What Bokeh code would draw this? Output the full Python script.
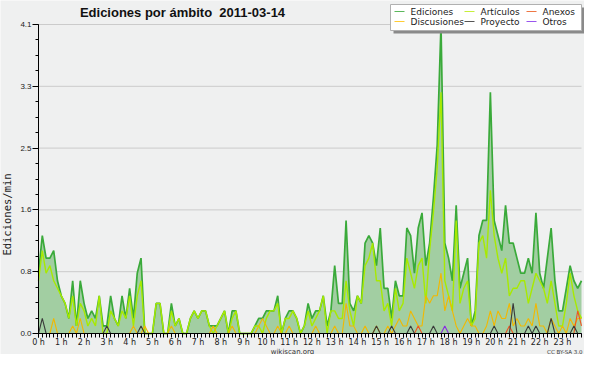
import math
from bokeh.plotting import figure
from bokeh.models import Range1d, FixedTicker, Label, BoxAnnotation
from bokeh.embed import file_html
from bokeh.resources import INLINE

# ---------------- data (edits per minute, 10-minute bins, 2011-03-14) ----------------
HOUR_LABELS = [f"{h} h" for h in range(24)]
Y_TICKS = [0.0, 0.82, 1.64, 2.46, 3.28, 4.1]
Y_LABELS = ["0.0", "0.8", "1.6", "2.5", "3.3", "4.1"]

EDICIONES = [
    0.8, 1.3, 1.0, 1.0, 1.1, 0.7,
    0.5, 0.4, 0.2, 0.7, 0.1, 0.7,
    0.4, 0.2, 0.3, 0.2, 0.5, 0.1,
    0.1, 0.5, 0.2, 0.1, 0.5, 0.2,
    0.6, 0.2, 0.8, 1.0, 0.0, 0.0,
    0.0, 0.4, 0.4, 0.0, 0.0, 0.4,
    0.1, 0.2, 0.0, 0.0, 0.2, 0.3,
    0.2, 0.3, 0.3, 0.1, 0.1, 0.1,
    0.2, 0.3, 0.0, 0.3, 0.3, 0.0,
    0.0, 0.0, 0.0, 0.1, 0.2, 0.2,
    0.3, 0.3, 0.3, 0.5, 0.0, 0.2,
    0.3, 0.3, 0.2, 0.0, 0.1, 0.4,
    0.2, 0.3, 0.3, 0.5, 0.1, 0.3,
    0.9, 0.4, 0.4, 1.5, 0.4, 0.3,
    0.5, 0.4, 1.2, 1.3, 1.2, 0.9,
    1.4, 0.6, 0.6, 0.2, 0.7, 0.5,
    0.5, 1.4, 1.3, 0.8, 1.4, 1.6,
    0.9, 1.2, 1.8, 2.5, 4.1, 1.2,
    1.0, 0.7, 1.7, 0.6, 0.8, 1.0,
    0.1, 0.3, 1.3, 1.5, 1.5, 3.2,
    1.5, 1.3, 1.1, 1.7, 1.2, 1.2,
    1.0, 0.8, 0.8, 1.0, 0.8, 1.6,
    0.8, 0.6, 1.0, 1.4, 0.7, 0.3,
    0.3, 0.6, 0.9, 0.7, 0.6, 0.7,
]

ARTICULOS = [
    0.7, 1.1, 0.8, 0.9, 0.7, 0.6,
    0.5, 0.4, 0.2, 0.5, 0.1, 0.4,
    0.3, 0.1, 0.2, 0.1, 0.5, 0.0,
    0.0, 0.3, 0.2, 0.1, 0.3, 0.2,
    0.5, 0.1, 0.5, 0.7, 0.0, 0.0,
    0.0, 0.4, 0.4, 0.0, 0.0, 0.3,
    0.1, 0.2, 0.0, 0.0, 0.2, 0.3,
    0.2, 0.3, 0.3, 0.1, 0.0, 0.1,
    0.2, 0.3, 0.0, 0.2, 0.3, 0.0,
    0.0, 0.0, 0.0, 0.1, 0.1, 0.0,
    0.2, 0.3, 0.3, 0.4, 0.0, 0.2,
    0.2, 0.3, 0.2, 0.0, 0.1, 0.3,
    0.1, 0.2, 0.3, 0.5, 0.0, 0.3,
    0.3, 0.2, 0.2, 0.7, 0.3, 0.1,
    0.5, 0.4, 0.9, 1.0, 1.2, 0.7,
    0.7, 0.3, 0.4, 0.1, 0.6, 0.3,
    0.4, 1.0, 0.8, 0.6, 0.9, 1.0,
    0.4, 1.1, 1.6, 2.2, 3.2, 0.7,
    0.5, 0.3, 1.5, 0.4, 0.6, 0.7,
    0.1, 0.2, 1.2, 1.3, 1.0, 1.9,
    1.3, 1.0, 0.8, 1.0, 0.5, 0.6,
    0.6, 0.7, 0.7, 0.4, 0.6, 0.8,
    0.7, 0.6, 0.4, 0.7, 0.4, 0.1,
    0.1, 0.4, 0.8, 0.5, 0.3, 0.2,
]

DISCUSIONES = [
    0.0, 0.0, 0.0, 0.0, 0.2, 0.0,
    0.0, 0.0, 0.0, 0.1, 0.0, 0.2,
    0.0, 0.0, 0.0, 0.0, 0.0, 0.0,
    0.0, 0.0, 0.0, 0.0, 0.0, 0.0,
    0.0, 0.1, 0.0, 0.0, 0.1, 0.0,
    0.0, 0.0, 0.0, 0.0, 0.0, 0.1,
    0.0, 0.0, 0.0, 0.0, 0.0, 0.0,
    0.0, 0.0, 0.0, 0.0, 0.1, 0.0,
    0.0, 0.0, 0.0, 0.1, 0.0, 0.0,
    0.0, 0.0, 0.0, 0.0, 0.1, 0.2,
    0.1, 0.0, 0.0, 0.1, 0.0, 0.0,
    0.1, 0.0, 0.0, 0.0, 0.0, 0.0,
    0.0, 0.1, 0.0, 0.0, 0.0, 0.0,
    0.1, 0.0, 0.0, 0.4, 0.1, 0.1,
    0.0, 0.0, 0.1, 0.0, 0.0, 0.1,
    0.0, 0.0, 0.1, 0.0, 0.1, 0.2,
    0.1, 0.1, 0.3, 0.2, 0.1, 0.1,
    0.5, 0.4, 0.5, 0.5, 0.8, 0.3,
    0.5, 0.3, 0.1, 0.0, 0.1, 0.2,
    0.1, 0.1, 0.0, 0.0, 0.1, 0.3,
    0.1, 0.3, 0.2, 0.2, 0.4, 0.1,
    0.2, 0.1, 0.1, 0.2, 0.1, 0.4,
    0.1, 0.1, 0.0, 0.2, 0.1, 0.0,
    0.1, 0.0, 0.2, 0.1, 0.2, 0.2,
]

PROYECTO = [
    0.0, 0.2, 0.0, 0.0, 0.0, 0.0,
    0.0, 0.0, 0.0, 0.0, 0.0, 0.0,
    0.0, 0.0, 0.0, 0.0, 0.0, 0.0,
    0.1, 0.0, 0.0, 0.0, 0.0, 0.0,
    0.0, 0.0, 0.0, 0.1, 0.0, 0.0,
    0.0, 0.0, 0.0, 0.0, 0.0, 0.0,
    0.0, 0.0, 0.0, 0.0, 0.0, 0.0,
    0.0, 0.0, 0.0, 0.0, 0.0, 0.0,
    0.0, 0.0, 0.0, 0.0, 0.0, 0.0,
    0.0, 0.0, 0.0, 0.0, 0.0, 0.0,
    0.0, 0.0, 0.0, 0.0, 0.0, 0.0,
    0.0, 0.0, 0.0, 0.0, 0.0, 0.0,
    0.0, 0.0, 0.0, 0.0, 0.0, 0.0,
    0.0, 0.0, 0.0, 0.0, 0.0, 0.0,
    0.0, 0.0, 0.0, 0.0, 0.0, 0.1,
    0.0, 0.0, 0.0, 0.1, 0.0, 0.0,
    0.0, 0.0, 0.1, 0.0, 0.0, 0.0,
    0.0, 0.0, 0.1, 0.0, 0.0, 0.0,
    0.0, 0.0, 0.0, 0.0, 0.0, 0.0,
    0.0, 0.0, 0.0, 0.0, 0.0, 0.0,
    0.1, 0.0, 0.0, 0.0, 0.0, 0.4,
    0.0, 0.0, 0.0, 0.1, 0.0, 0.1,
    0.0, 0.0, 0.0, 0.2, 0.0, 0.0,
    0.0, 0.0, 0.0, 0.1, 0.0, 0.0,
]

ANEXOS = [0.0] * 100 + [0.1] + [0.0] * 23 + [0.1] + [0.0] * 17 + [0.3, 0.1]
OTROS = [0.0] * 107 + [0.1] + [0.0] * 36

SERIES = [
    ("Artículos", ARTICULOS, "#a8ea00", 1.4),
    ("Discusiones", DISCUSIONES, "#f2b800", 1.1),
    ("Anexos", ANEXOS, "#ee5522", 1.1),
    ("Proyecto", PROYECTO, "#3a3a3a", 1.1),
    ("Otros", OTROS, "#8a2be2", 1.1),
]

LEGEND_ROWS = [
    [("Ediciones", "#5cb85c"), ("Artículos", "#c6ef3a"), ("Anexos", "#ee7744")],
    [("Discusiones", "#ffcc33"), ("Proyecto", "#555555"), ("Otros", "#9955ee")],
]

TITLE = "Ediciones por ámbito \u00a02011-03-14"

# ---------------- layout (figure pixels, origin top-left) ----------------
W, H = 584, 354
DL, DR, DT, DB = 38, 581, 24, 333   # data-area edges: x=0 .. last bin, y=0 .. 4.1
BG = "#eff0f0"

def sx(fx):
    return fx

def sy(fy):
    return H - fy

N = len(EDICIONES)
x = list(range(N))
hour_ticks = list(range(0, N, 6))
y_max = Y_TICKS[-1]
ppx = (DR - DL) / (N - 1)
ppy = (DB - DT) / y_max

p = figure(width=W, height=H, output_backend="svg", toolbar_location=None,
           x_range=Range1d(-DL / ppx, (N - 1) + (W - DR) / ppx),
           y_range=Range1d(-(H - DB) / ppy, y_max + DT / ppy),
           min_border=0,
           background_fill_color=BG, border_fill_color=BG,
           outline_line_color=None)
p.title.text = ""
p.title.visible = False
p.grid.visible = False

# axes, pinned at the data origin
p.xaxis.fixed_location = 0
p.xaxis.bounds = (0, N - 1)
p.xaxis.ticker = FixedTicker(ticks=hour_ticks, minor_ticks=x)
p.xaxis.major_label_overrides = {t: lab for t, lab in zip(hour_ticks, HOUR_LABELS)}
p.xaxis.major_tick_out = 4
p.xaxis.major_tick_in = 0
p.xaxis.minor_tick_out = 4
p.xaxis.minor_tick_in = 0
p.xaxis.major_label_standoff = 0
p.xaxis.major_label_text_font = "DejaVu Sans"
p.xaxis.major_label_text_font_size = "8px"
p.xaxis.major_label_text_color = "#222222"
p.xaxis.axis_line_color = "black"
p.xaxis.major_tick_line_color = "black"
p.xaxis.minor_tick_line_color = "black"

y_minor = [k * 0.205 for k in range(21)]
p.yaxis.fixed_location = 0
p.yaxis.bounds = (0, y_max)
p.yaxis.ticker = FixedTicker(ticks=Y_TICKS, minor_ticks=y_minor)
p.yaxis.major_label_overrides = {t: lab for t, lab in zip(Y_TICKS, Y_LABELS)}
p.yaxis.major_tick_out = 6
p.yaxis.major_tick_in = 0
p.yaxis.minor_tick_out = 3
p.yaxis.minor_tick_in = 0
p.yaxis.major_label_standoff = 1
p.yaxis.major_label_text_font = "Liberation Sans"
p.yaxis.major_label_text_font_size = "8px"
p.yaxis.major_label_text_color = "#222222"
p.yaxis.axis_line_color = "black"
p.yaxis.major_tick_line_color = "black"
p.yaxis.minor_tick_line_color = "black"

# horizontal grid lines at the major y ticks
grid_y = Y_TICKS[1:]
p.segment(x0=[0] * len(grid_y), y0=grid_y, x1=[N - 1] * len(grid_y), y1=grid_y,
          line_color="#cbcbcb", line_width=1)

# data
p.varea(x=x, y1=[0.0] * N, y2=EDICIONES, fill_color="#a2cea2")
p.line(x, EDICIONES, line_color="#3aaa3a", line_width=1.7)
for name, vals, col, lw in SERIES:
    p.line(x, vals, line_color=col, line_width=lw)

def label(fx, fy, text, **kw):
    p.add_layout(Label(x=sx(fx), y=sy(fy), x_units="screen", y_units="screen",
                       text=text, **kw))

# title, y label, footer
label(182, 12, TITLE, text_align="center", text_baseline="alphabetic",
      text_font="Liberation Sans", text_font_style="bold", text_font_size="13px",
      text_color="#111111")
label(6, 214, "Ediciones/min", angle=math.pi / 2, text_align="center",
      text_baseline="middle", text_font="DejaVu Sans Mono", text_font_size="10.5px",
      text_color="#222222")
label(292, 351, "wikiscan.org", text_align="center", text_baseline="alphabetic",
      text_font="DejaVu Sans", text_font_size="7px", text_color="#333333")
label(582, 351, "CC BY-SA 3.0", text_align="right", text_baseline="alphabetic",
      text_font="DejaVu Sans", text_font_size="5.5px", text_color="#333333")

# legend (drawn by hand)
def box(l, r, t, b, **kw):
    p.add_layout(BoxAnnotation(left=sx(l), right=sx(r), top=sy(t), bottom=sy(b),
                               left_units="screen", right_units="screen",
                               top_units="screen", bottom_units="screen", **kw))

BL, BR, BT, BB = 390, 581, 4, 30
box(BL + 3, BR + 3, BT + 3, BB + 3, fill_color="#8a8a8a", fill_alpha=1.0, line_alpha=0.0)
box(BL, BR, BT, BB, fill_color="#ffffff", fill_alpha=1.0,
    line_color="#b0b0b0", line_alpha=1.0, line_width=1)
col_line_x = [394, 464, 526]
col_text_x = [410, 480, 542]
row_y = [11, 21]
for r, row in enumerate(LEGEND_ROWS):
    for c, (name, col) in enumerate(row):
        lx = col_line_x[c]
        ly = row_y[r]
        box(lx, lx + 10, ly - 0.5, ly + 0.5, fill_color=col, fill_alpha=1.0, line_alpha=0.0)
        label(col_text_x[c], ly, name, text_align="left", text_baseline="middle",
              text_font="DejaVu Sans", text_font_size="9px", text_color="#222222")

open("out.html", "w").write(file_html(p, INLINE))
